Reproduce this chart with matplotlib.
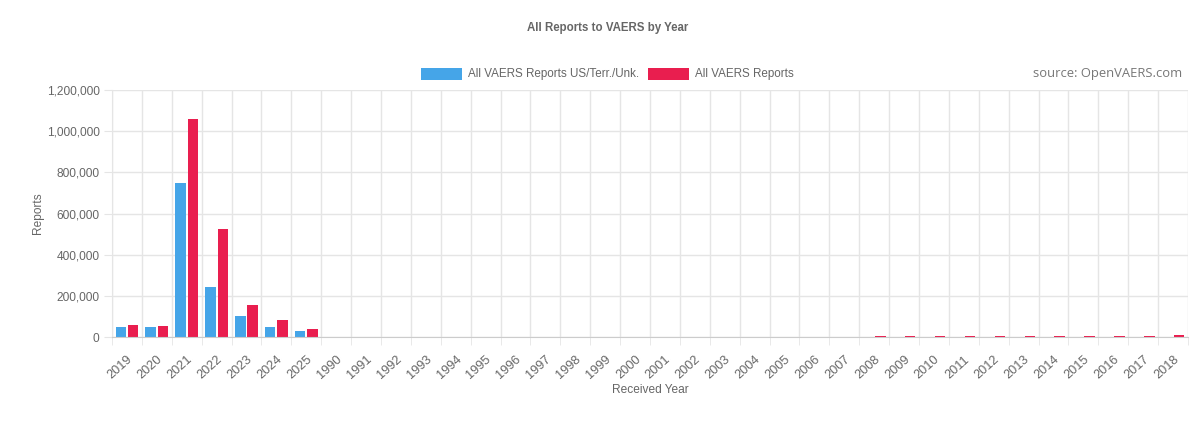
import numpy as np
import matplotlib.pyplot as plt
from matplotlib.ticker import FuncFormatter

years = ['2019', '2020', '2021', '2022', '2023', '2024', '2025'] + [str(y) for y in range(1990, 2019)]

us_reports = [47000, 47000, 750000, 245000, 102000, 49000, 28000] + [0] * 29
all_reports = [57000, 55000, 1061000, 525000, 154000, 85000, 41000,
               2000, 2000, 2000, 500, 500, 500, 500, 500, 500, 500,
               500, 500, 500, 500, 500, 500, 500, 500,
               3000, 3000, 4000, 5000, 5000, 5000, 5000, 7000, 7000, 6000, 8000]

blue = '#45A5E8'
red = '#E91E4F'
grey = '#666666'

plt.rcParams['font.family'] = ['Liberation Sans', 'DejaVu Sans']

fig = plt.figure(figsize=(12, 4.34), dpi=100)
ax = fig.add_axes([112 / 1200, 1 - 337 / 434, (1188 - 112) / 1200, (337 - 90) / 434])

x = np.arange(len(years))
w = 0.35
ax.bar(x - w / 2 - 0.03, us_reports, w, color=blue, label='All VAERS Reports US/Terr./Unk.')
ax.bar(x + w / 2 + 0.03, all_reports, w, color=red, label='All VAERS Reports')

ax.set_xlim(-0.5, len(years) - 0.5)
ax.set_ylim(0, 1200000)
ax.set_yticks(np.arange(0, 1200001, 200000))
ax.yaxis.set_major_formatter(FuncFormatter(lambda v, p: '{:,.0f}'.format(v)))
ax.set_xticks(x)
ax.set_xticklabels(years, rotation=42, ha='right', va='top', rotation_mode='anchor')
ax.set_xticks(np.arange(-0.5, len(years), 1), minor=True)
ax.grid(which='minor', axis='x', color='#e5e5e5', lw=1)
ax.grid(which='major', axis='y', color='#e5e5e5', lw=1)
ax.set_axisbelow(True)
ax.tick_params(axis='x', which='major', length=0, pad=12, labelsize=9.2, colors=grey)
ax.tick_params(axis='x', which='minor', length=6, color='#e5e5e5')
ax.tick_params(axis='y', length=6, color='#e5e5e5', labelsize=8.6, colors=grey, pad=3)
for s in ['top', 'right']:
    ax.spines[s].set_visible(False)
ax.spines['left'].set_color('#e5e5e5')
ax.spines['bottom'].set_color('#cccccc')

ax.set_ylabel('Reports', color=grey, fontsize=8.6)
ax.yaxis.set_label_coords(-0.0635, 0.5)
ax.set_xlabel('Received Year', color=grey, fontsize=8.6, labelpad=2)

fig.text(0.506, 1 - 28 / 434, 'All Reports to VAERS by Year', ha='center', va='center',
         fontsize=8.3, fontweight='bold', color=grey)
fig.legend(loc='center', bbox_to_anchor=(0.506, 1 - 74 / 434), ncol=2, frameon=False,
           fontsize=8.4, labelcolor=grey, handlelength=3.5, handleheight=1.2,
           handletextpad=0.5, columnspacing=0.8)
fig.text(1182 / 1200, 1 - 74 / 434, 'source: OpenVAERS.com', ha='right', va='center',
         fontsize=9.4, color='#777777', family=['Open Sans', 'DejaVu Sans'])

fig.savefig('out.png', dpi=100)
